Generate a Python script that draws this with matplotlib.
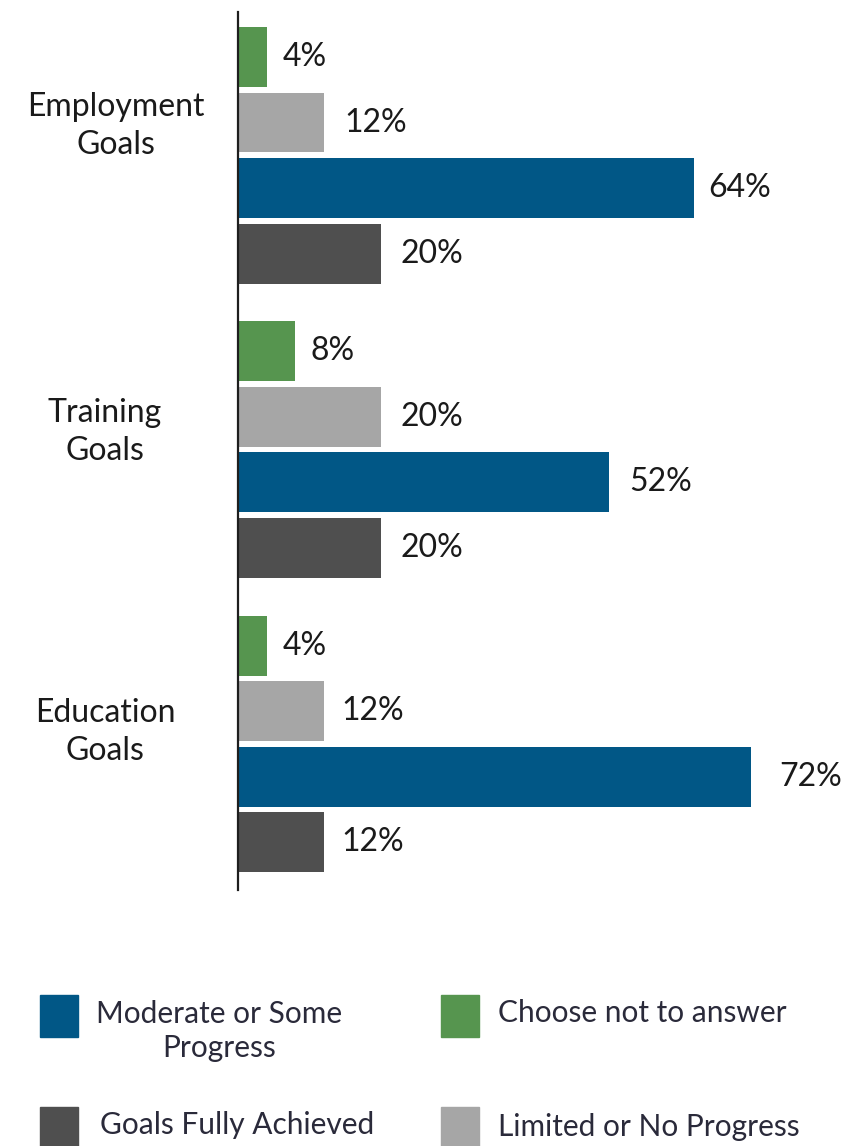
import matplotlib
matplotlib.use("Agg")
import matplotlib.pyplot as plt
from matplotlib.patches import Rectangle

# Survey results: share of participants by progress level for each goal type
groups = ["Employment\nGoals", "Training\nGoals", "Education\nGoals"]
series = ["Choose not to answer", "Limited or No Progress",
          "Moderate or Some Progress", "Goals Fully Achieved"]
choose_not = [4, 8, 4]
limited = [12, 20, 12]
moderate = [64, 52, 72]
fully = [20, 20, 12]
values = [choose_not, limited, moderate, fully]
colors = ["#56954F", "#A6A6A6", "#015786", "#4F4F4F"]

FONT = ["Lato", "DejaVu Sans"]
LEG_FONT = ["Lato", "DejaVu Sans"]
WEIGHT = "normal"

W, H = 846, 1146
fig = plt.figure(figsize=(W / 100, H / 100), dpi=100)

# axes placed in pixel terms: vertical axis line at x=238, from y=12 to y=890
ax_left, ax_right = 238, 838
ax_top, ax_bottom = 12, 890
ax = fig.add_axes([ax_left / W, 1 - ax_bottom / H,
                   (ax_right - ax_left) / W, (ax_bottom - ax_top) / H])

px_per_pct = 7.13
ax.set_xlim(0, (ax_right - ax_left) / px_per_pct)

group_pitch = 4.49   # in bar slots
bar_height = 0.915
ax.set_ylim(2 * group_pitch + 3 + 0.73, -0.686)

label_pad = [[12, 11, 12], [15, 14, 13], [10, 15, 20], [14, 14, 13]]
for k, (vals, col) in enumerate(zip(values, colors)):
    ys = [g * group_pitch + k for g in range(len(groups))]
    ax.barh(ys, vals, height=bar_height, color=col, left=0, zorder=2)
    for g, (y, v) in enumerate(zip(ys, vals)):
        ax.annotate(f"{v}%", xy=(v, y), xytext=(label_pad[k][g], 0),
                    textcoords="offset points", va="center", ha="left",
                    fontsize=23, family=FONT, weight=WEIGHT, color="#1a1a1a")

for s in ["top", "right", "bottom"]:
    ax.spines[s].set_visible(False)
ax.spines["left"].set_linewidth(1.6)
ax.spines["left"].set_color("#1e1e1e")
ax.set_xticks([])
ax.set_yticks([])

# category labels, left of the axis
label_pos = [(116, 126), (105, 432), (105, 732)]
for name, (xp, yp) in zip(groups, label_pos):
    fig.text(xp / W, 1 - yp / H, name, ha="center", va="center",
             multialignment="center", fontsize=23, family=FONT, weight=WEIGHT,
             color="#1a1a1a", linespacing=1.32)

# legend drawn as swatches + labels
legend_items = [
    ("Moderate or Some\nProgress", colors[2], 40, 995, 219, 1031, "center"),
    ("Choose not to answer", colors[0], 441, 995, 498, 1013, "left"),
    ("Goals Fully Achieved", colors[3], 40, 1107, 100, 1125, "left"),
    ("Limited or No Progress", colors[1], 441, 1107, 498, 1127, "left"),
]
sw = 38
for text, col, sx, sy, tx, ty, ha in legend_items:
    fig.add_artist(Rectangle((sx / W, 1 - (sy + 42) / H), sw / W, 42 / H,
                             transform=fig.transFigure, color=col))
    fig.text(tx / W, 1 - ty / H, text, ha=ha, va="center", multialignment="center",
             fontsize=21.5, family=LEG_FONT, weight=WEIGHT, color="#2a2a3a",
             linespacing=1.25)

fig.savefig("out.png", dpi=100, facecolor="white")
